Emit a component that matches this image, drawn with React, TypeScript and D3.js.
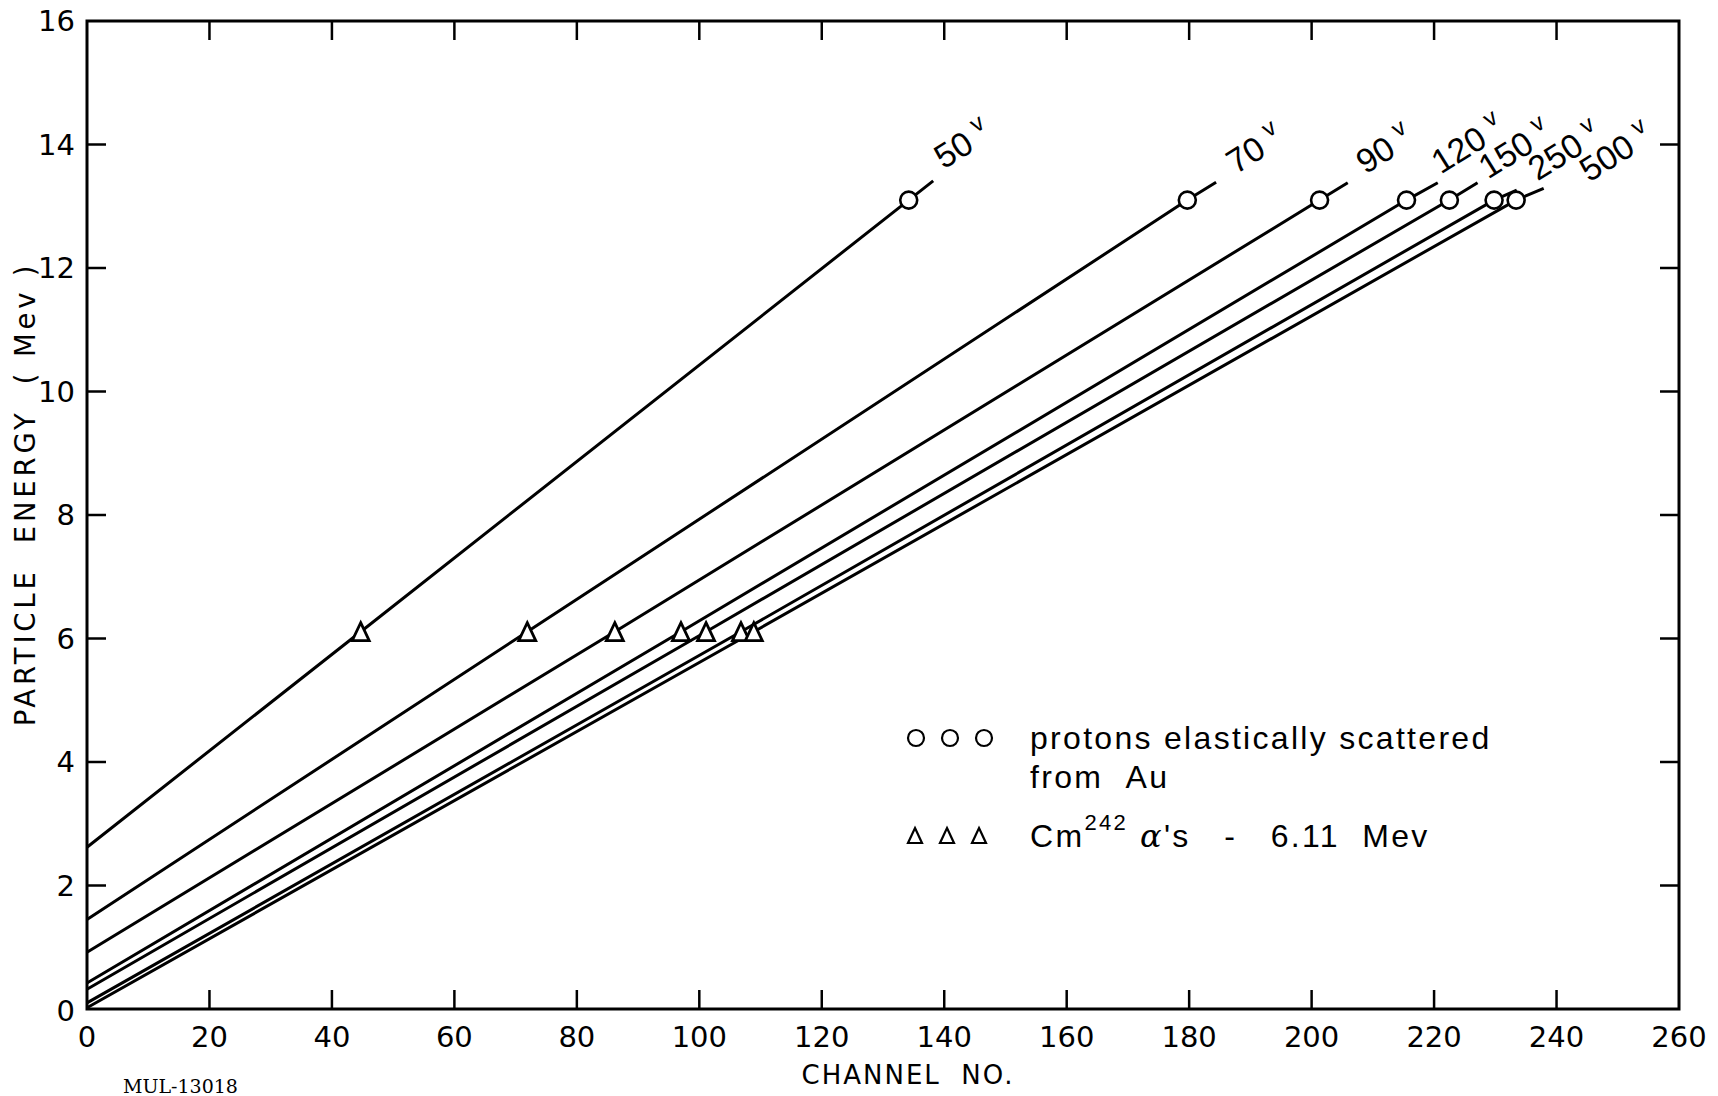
import React from "react";
import * as d3 from "d3";

// ---- data ----
const voltageLabels = ["50", "70", "90", "120", "150", "250", "500"];
const intercepts = [2.62, 1.45, 0.92, 0.42, 0.32, 0.1, 0.02];
const alphaEnergy = 6.11;
const alphaChannels = [44.7, 71.9, 86.2, 97.0, 101.1, 106.8, 108.9];
const protonEnergy = 13.1;
const protonChannels = [134.2, 179.7, 201.3, 215.5, 222.5, 229.8, 233.4];
const lineEndChannels = [138.2, 184.4, 205.9, 220.6, 227.1, 233.5, 237.9];
const lineEndEnergies = [13.41, 13.39, 13.38, 13.38, 13.38, 13.26, 13.29];
const labelChannels = [139.9, 187.6, 208.8, 221.1, 228.8, 236.9, 245.3];
const labelEnergies = [13.59, 13.51, 13.51, 13.51, 13.43, 13.4, 13.38];

const xTicks = [0, 20, 40, 60, 80, 100, 120, 140, 160, 180, 200, 220, 240, 260];
const yTicks = [0, 2, 4, 6, 8, 10, 12, 14, 16];

const W = 1718;
const H = 1096;
const FONT = "'DejaVu Sans', 'Liberation Sans', sans-serif";
const NARROW = "'Liberation Sans', 'DejaVu Sans', sans-serif";

export default function App() {
  const x = d3.scaleLinear().domain([0, 260]).range([87, 1679]);
  const y = d3.scaleLinear().domain([0, 16]).range([1009, 21]);
  const line = d3
    .line<[number, number]>()
    .x((d) => x(d[0]))
    .y((d) => y(d[1]));

  const [x0, x1] = x.range();
  const [y0, y1] = y.range();
  const tickLen = 19;

  return (
    <svg
      width={W}
      height={H}
      viewBox={`0 0 ${W} ${H}`}
      style={{ position: "absolute", left: 0, top: 0, background: "#fff" }}
    >
      <rect x={0} y={0} width={W} height={H} fill="#fff" />

      {/* frame */}
      <rect
        x={x0}
        y={y1}
        width={x1 - x0}
        height={y0 - y1}
        fill="none"
        stroke="#000"
        strokeWidth={3}
      />

      {/* x ticks (bottom & top, inward) */}
      {xTicks
        .filter((t) => t > 0 && t < 260)
        .map((t) => (
          <g key={"xt" + t}>
            <line x1={x(t)} x2={x(t)} y1={y0} y2={y0 - tickLen} stroke="#000" strokeWidth={2.5} />
            <line x1={x(t)} x2={x(t)} y1={y1} y2={y1 + tickLen} stroke="#000" strokeWidth={2.5} />
          </g>
        ))}
      {xTicks.map((t) => (
        <text
          key={"xl" + t}
          x={x(t)}
          y={y0 + 38}
          textAnchor="middle"
          fontFamily={FONT}
          fontSize={29}
          fill="#000"
        >
          {t}
        </text>
      ))}

      {/* y ticks (left & right, inward) */}
      {yTicks
        .filter((t) => t > 0 && t < 16)
        .map((t) => (
          <g key={"yt" + t}>
            <line x1={x0} x2={x0 + tickLen} y1={y(t)} y2={y(t)} stroke="#000" strokeWidth={2.5} />
            <line x1={x1} x2={x1 - tickLen} y1={y(t)} y2={y(t)} stroke="#000" strokeWidth={2.5} />
          </g>
        ))}
      {yTicks.map((t) => (
        <text
          key={"yl" + t}
          x={75}
          y={y(t) + (t === 0 ? 12 : 10)}
          textAnchor="end"
          fontFamily={FONT}
          fontSize={29}
          fill="#000"
        >
          {t}
        </text>
      ))}

      {/* axis titles */}
      <text
        x={908}
        y={1084}
        textAnchor="middle"
        fontFamily={FONT}
        fontSize={26}
        letterSpacing={2}
        fill="#000"
      >
        CHANNEL{"\u00A0\u00A0"}NO.
      </text>
      <text
        transform={`translate(35, 494) rotate(-90)`}
        textAnchor="middle"
        fontFamily={FONT}
        fontSize={27.5}
        letterSpacing={3.8}
        fill="#000"
      >
        PARTICLE{"\u00A0\u00A0"}ENERGY{"\u00A0\u00A0"}(
        {"\u00A0"}Mev{"\u00A0"})
      </text>
      <text
        x={123}
        y={1093}
        fontFamily="'DejaVu Serif', 'Liberation Serif', serif"
        fontSize={19}
        fill="#000"
      >
        MUL-13018
      </text>

      {/* calibration lines */}
      {voltageLabels.map((v, i) => {
        const pts: [number, number][] = [
          [0, intercepts[i]],
          [alphaChannels[i], alphaEnergy],
          [protonChannels[i], protonEnergy],
          [lineEndChannels[i], lineEndEnergies[i]],
        ];
        return (
          <path
            key={"ln" + v}
            d={line(pts) || ""}
            fill="none"
            stroke="#000"
            strokeWidth={3}
          />
        );
      })}

      {/* alpha triangles */}
      {alphaChannels.map((c, i) => {
        const cx = x(c);
        const cy = y(alphaEnergy);
        const s = 8.5;
        const hgt = 18;
        return (
          <path
            key={"tri" + i}
            d={`M${cx},${cy - hgt / 2} L${cx + s},${cy + hgt / 2} L${cx - s},${cy + hgt / 2} Z`}
            fill="#fff"
            stroke="#000"
            strokeWidth={2.8}
            strokeLinejoin="miter"
          />
        );
      })}

      {/* proton circles */}
      {protonChannels.map((c, i) => (
        <circle
          key={"cir" + i}
          cx={x(c)}
          cy={y(protonEnergy)}
          r={8.5}
          fill="#fff"
          stroke="#000"
          strokeWidth={2.6}
        />
      ))}

      {/* voltage labels */}
      {voltageLabels.map((v, i) => (
        <text
          key={"lab" + v}
          transform={`translate(${x(labelChannels[i])}, ${y(labelEnergies[i])}) rotate(-32)`}
          fontFamily={NARROW}
          fontSize={34}
          fill="#000"
        >
          {v}
          <tspan dx={9} dy={-14} fontSize={24}>
            v
          </tspan>
        </text>
      ))}

      {/* legend */}
      {[0, 1, 2].map((k) => (
        <circle
          key={"lc" + k}
          cx={916 + k * 34}
          cy={738}
          r={8}
          fill="#fff"
          stroke="#000"
          strokeWidth={2.2}
        />
      ))}
      {[0, 1, 2].map((k) => {
        const cx = 915 + k * 32;
        const cy = 836;
        return (
          <path
            key={"lt" + k}
            d={`M${cx},${cy - 8} L${cx + 7},${cy + 7} L${cx - 7},${cy + 7} Z`}
            fill="#fff"
            stroke="#000"
            strokeWidth={2.2}
          />
        );
      })}
      <text x={1030} y={749} fontFamily={NARROW} fontSize={32} letterSpacing={2.3} fill="#000">
        protons elastically scattered
      </text>
      <text x={1030} y={788} fontFamily={NARROW} fontSize={32} letterSpacing={2.3} fill="#000">
        from{"\u00A0\u00A0"}Au
      </text>
      <text x={1030} y={847} fontFamily={NARROW} fontSize={32} letterSpacing={2.3} fill="#000">
        Cm
        <tspan dy={-17} fontSize={22}>
          242
        </tspan>
        <tspan dy={17} dx={12} fontStyle="italic" fontFamily="'DejaVu Serif', serif">
          α
        </tspan>
        <tspan>'s{"\u00A0\u00A0\u00A0"}-{"\u00A0\u00A0\u00A0"}6.11{"\u00A0\u00A0"}Mev</tspan>
      </text>
    </svg>
  );
}
